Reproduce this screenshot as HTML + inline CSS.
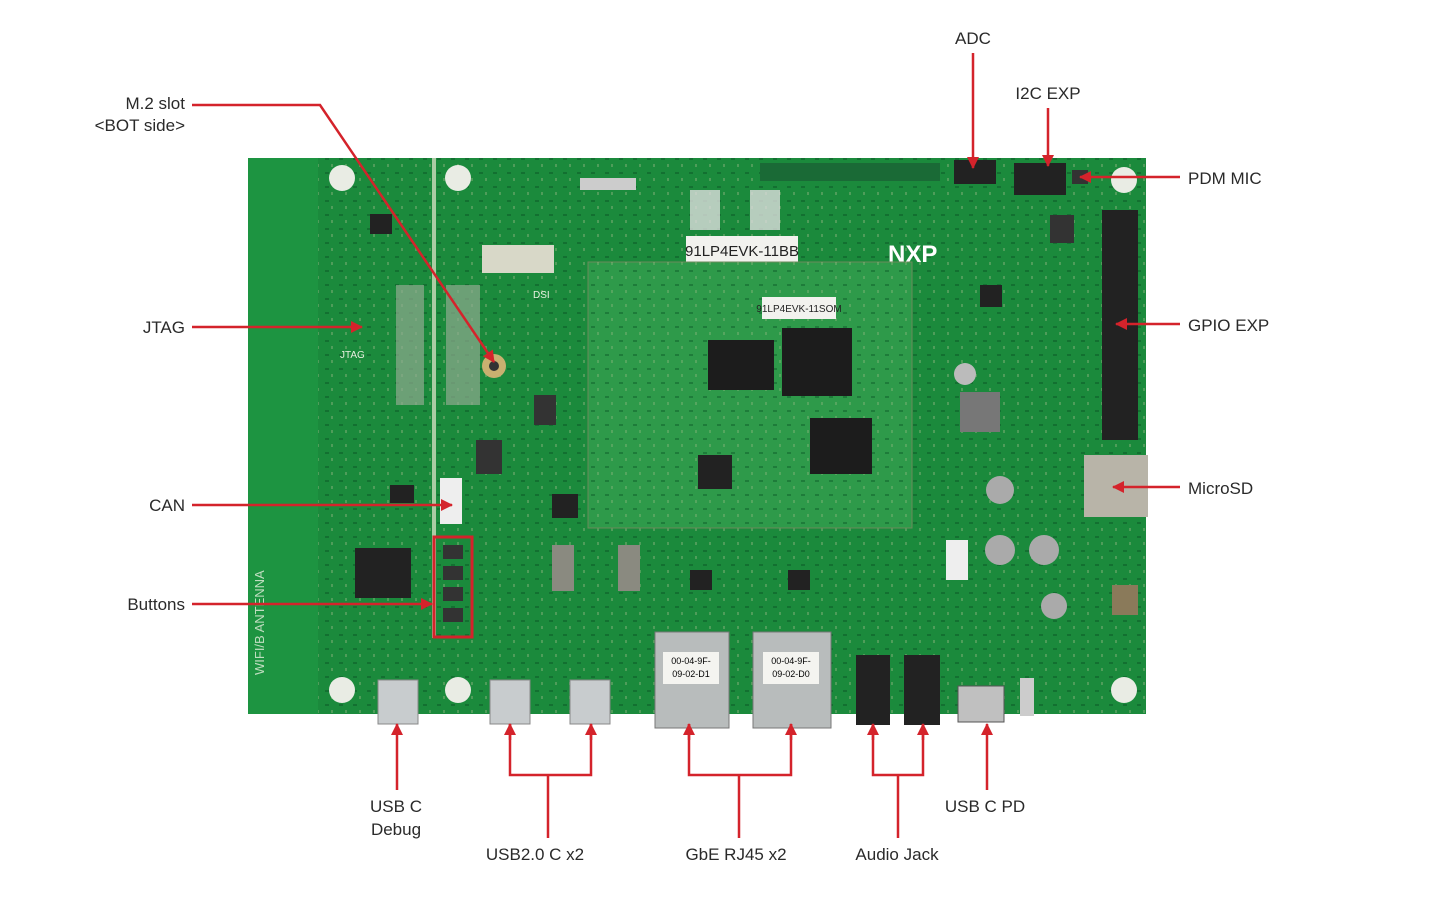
<!DOCTYPE html>
<html><head><meta charset="utf-8"><style>
html,body{margin:0;padding:0;background:#fff;}
svg{display:block;font-family:"Liberation Sans",sans-serif;}
</style></head><body>
<svg width="1452" height="911" viewBox="0 0 1452 911" xmlns="http://www.w3.org/2000/svg">
<defs>
<marker id="ar" markerWidth="12" markerHeight="12" refX="11" refY="6" orient="auto" markerUnits="userSpaceOnUse">
<path d="M0,0 L12,6 L0,12 z" fill="#d4232b"/></marker>
<pattern id="dots" width="14" height="14" patternUnits="userSpaceOnUse">
<rect x="3" y="4" width="4" height="2" fill="#0d5e2a"/><rect x="9" y="10" width="2" height="3" fill="#c9c9a0" opacity=".5"/></pattern>
</defs>
<!-- board -->
<rect x="248" y="158" width="898" height="556" fill="#1b8a3c"/>
<rect x="248" y="158" width="898" height="556" fill="url(#dots)" opacity=".6"/>
<rect x="248" y="158" width="70" height="556" fill="#1d9441"/>
<g fill="#e8f0e0" opacity=".8" font-size="13">
<text transform="translate(264,675) rotate(-90)">WIFI/B ANTENNA</text>
</g>
<text x="340" y="358" font-size="10" fill="#e8f0e0">JTAG</text>
<text x="533" y="298" font-size="10" fill="#e8f0e0">DSI</text>
<rect x="432" y="158" width="4" height="480" fill="#e8e8d0" opacity=".7"/>
<!-- mounting holes -->
<g fill="#e9ece4"><circle cx="342" cy="178" r="13"/><circle cx="458" cy="178" r="13"/><circle cx="1124" cy="180" r="13"/><circle cx="342" cy="690" r="13"/><circle cx="458" cy="690" r="13"/><circle cx="1124" cy="690" r="13"/></g>
<!-- left chips -->
<rect x="355" y="548" width="56" height="50" fill="#222"/>
<rect x="370" y="214" width="22" height="20" fill="#222"/>
<rect x="390" y="485" width="24" height="18" fill="#222"/>
<rect x="396" y="285" width="28" height="120" fill="#8fa98e" opacity=".7"/>
<rect x="446" y="285" width="34" height="120" fill="#8fa98e" opacity=".7"/>
<circle cx="494" cy="366" r="12" fill="#c9b070"/><circle cx="494" cy="366" r="5" fill="#333"/>
<rect x="482" y="245" width="72" height="28" fill="#d8d8c8"/>
<rect x="476" y="440" width="26" height="34" fill="#333"/>
<rect x="534" y="395" width="22" height="30" fill="#333"/>
<rect x="440" y="478" width="22" height="46" fill="#eee"/>
<!-- buttons -->
<g fill="#333"><rect x="443" y="545" width="20" height="14"/><rect x="443" y="566" width="20" height="14"/><rect x="443" y="587" width="20" height="14"/><rect x="443" y="608" width="20" height="14"/></g>
<rect x="434" y="537" width="38" height="100" fill="none" stroke="#d4232b" stroke-width="3"/>
<!-- top connectors -->
<rect x="580" y="178" width="56" height="12" fill="#ccc"/>
<rect x="690" y="190" width="30" height="40" fill="#ddd" opacity=".8"/>
<rect x="750" y="190" width="30" height="40" fill="#ddd" opacity=".8"/>
<rect x="760" y="163" width="180" height="18" fill="#1a6a36"/>
<rect x="954" y="160" width="42" height="24" fill="#222"/>
<rect x="1014" y="163" width="52" height="32" fill="#222"/>
<rect x="1072" y="170" width="16" height="14" fill="#333"/>
<rect x="1102" y="210" width="36" height="230" fill="#222"/>
<rect x="686" y="236" width="112" height="26" fill="#f2f2ee"/>
<text x="742" y="256" font-size="15" text-anchor="middle" fill="#222">91LP4EVK-11BB</text>
<text x="888" y="262" font-size="24" font-weight="bold" fill="#fff">NXP</text>
<!-- SOM -->
<rect x="588" y="262" width="324" height="266" fill="#2e9a4a" stroke="#6a8a5a"/>
<rect x="588" y="262" width="324" height="266" fill="url(#dots)" opacity=".5"/>
<rect x="762" y="297" width="74" height="22" fill="#f2f2ee"/>
<text x="799" y="312" font-size="10" text-anchor="middle" fill="#222">91LP4EVK-11SOM</text>
<rect x="708" y="340" width="66" height="50" fill="#1c1c1c"/>
<rect x="782" y="328" width="70" height="68" fill="#1c1c1c"/>
<rect x="810" y="418" width="62" height="56" fill="#1c1c1c"/>
<rect x="698" y="455" width="34" height="34" fill="#222"/>
<!-- right side parts -->
<rect x="960" y="392" width="40" height="40" fill="#777"/>
<circle cx="965" cy="374" r="11" fill="#bbb"/>
<circle cx="1000" cy="490" r="14" fill="#aaa"/><circle cx="1000" cy="550" r="15" fill="#aaa"/><circle cx="1044" cy="550" r="15" fill="#aaa"/><circle cx="1054" cy="606" r="13" fill="#aaa"/>
<rect x="1084" y="455" width="64" height="62" fill="#b8b4a8"/>
<rect x="946" y="540" width="22" height="40" fill="#eee"/>
<rect x="1112" y="585" width="26" height="30" fill="#8a7a5a"/>
<rect x="980" y="285" width="22" height="22" fill="#222"/>
<rect x="1050" y="215" width="24" height="28" fill="#333"/>
<!-- middle lower -->
<g fill="#8a8a80"><rect x="552" y="545" width="22" height="46"/><rect x="618" y="545" width="22" height="46"/></g>
<rect x="690" y="570" width="22" height="20" fill="#222"/><rect x="788" y="570" width="22" height="20" fill="#222"/><rect x="552" y="494" width="26" height="24" fill="#222"/>
<!-- bottom connectors -->
<rect x="378" y="680" width="40" height="44" fill="#c8ccce" stroke="#888"/>
<rect x="490" y="680" width="40" height="44" fill="#c8ccce" stroke="#888"/>
<rect x="570" y="680" width="40" height="44" fill="#c8ccce" stroke="#888"/>
<rect x="655" y="632" width="74" height="96" fill="#b8bcbc" stroke="#777"/>
<rect x="753" y="632" width="78" height="96" fill="#b8bcbc" stroke="#777"/>
<rect x="663" y="652" width="56" height="32" fill="#f4f4f0"/><rect x="763" y="652" width="56" height="32" fill="#f4f4f0"/>
<text x="691" y="664" font-size="9" text-anchor="middle">00-04-9F-</text><text x="691" y="677" font-size="9" text-anchor="middle">09-02-D1</text>
<text x="791" y="664" font-size="9" text-anchor="middle">00-04-9F-</text><text x="791" y="677" font-size="9" text-anchor="middle">09-02-D0</text>
<rect x="856" y="655" width="34" height="70" fill="#222"/><rect x="904" y="655" width="36" height="70" fill="#222"/>
<rect x="958" y="686" width="46" height="36" fill="#c0c0c0" stroke="#555"/>
<rect x="1020" y="678" width="14" height="38" fill="#ccc"/>
<!-- callouts -->
<g stroke="#d4232b" stroke-width="2.5" fill="none">
<polyline points="192,105 320,105 494,362" marker-end="url(#ar)"/>
<line x1="973" y1="53" x2="973" y2="168" marker-end="url(#ar)"/>
<line x1="1048" y1="108" x2="1048" y2="166" marker-end="url(#ar)"/>
<line x1="1180" y1="177" x2="1080" y2="177" marker-end="url(#ar)"/>
<line x1="192" y1="327" x2="362" y2="327" marker-end="url(#ar)"/>
<line x1="1180" y1="324" x2="1116" y2="324" marker-end="url(#ar)"/>
<line x1="192" y1="505" x2="452" y2="505" marker-end="url(#ar)"/>
<line x1="1180" y1="487" x2="1113" y2="487" marker-end="url(#ar)"/>
<line x1="192" y1="604" x2="432" y2="604" marker-end="url(#ar)"/>
<line x1="397" y1="790" x2="397" y2="724" marker-end="url(#ar)"/>
<polyline points="510,724 510,775 591,775 591,724"/><line x1="548" y1="775" x2="548" y2="838"/>
<line x1="510" y1="740" x2="510" y2="724" marker-end="url(#ar)"/><line x1="591" y1="740" x2="591" y2="724" marker-end="url(#ar)"/>
<polyline points="689,724 689,775 791,775 791,724"/><line x1="739" y1="775" x2="739" y2="838"/>
<line x1="689" y1="740" x2="689" y2="724" marker-end="url(#ar)"/><line x1="791" y1="740" x2="791" y2="724" marker-end="url(#ar)"/>
<polyline points="873,724 873,775 923,775 923,724"/><line x1="898" y1="775" x2="898" y2="838"/>
<line x1="873" y1="740" x2="873" y2="724" marker-end="url(#ar)"/><line x1="923" y1="740" x2="923" y2="724" marker-end="url(#ar)"/>
<line x1="987" y1="790" x2="987" y2="724" marker-end="url(#ar)"/>
</g>
<g font-size="17" fill="#2a2a2a">
<text x="185" y="109" text-anchor="end">M.2 slot</text>
<text x="185" y="131" text-anchor="end">&lt;BOT side&gt;</text>
<text x="973" y="44" text-anchor="middle">ADC</text>
<text x="1048" y="99" text-anchor="middle">I2C EXP</text>
<text x="1188" y="184">PDM MIC</text>
<text x="185" y="333" text-anchor="end">JTAG</text>
<text x="1188" y="331">GPIO EXP</text>
<text x="185" y="511" text-anchor="end">CAN</text>
<text x="1188" y="494">MicroSD</text>
<text x="185" y="610" text-anchor="end">Buttons</text>
<text x="396" y="812" text-anchor="middle">USB C</text>
<text x="396" y="835" text-anchor="middle">Debug</text>
<text x="535" y="860" text-anchor="middle">USB2.0 C x2</text>
<text x="736" y="860" text-anchor="middle">GbE RJ45 x2</text>
<text x="897" y="860" text-anchor="middle">Audio Jack</text>
<text x="985" y="812" text-anchor="middle">USB C PD</text>
</g>
</svg>
</body></html>
